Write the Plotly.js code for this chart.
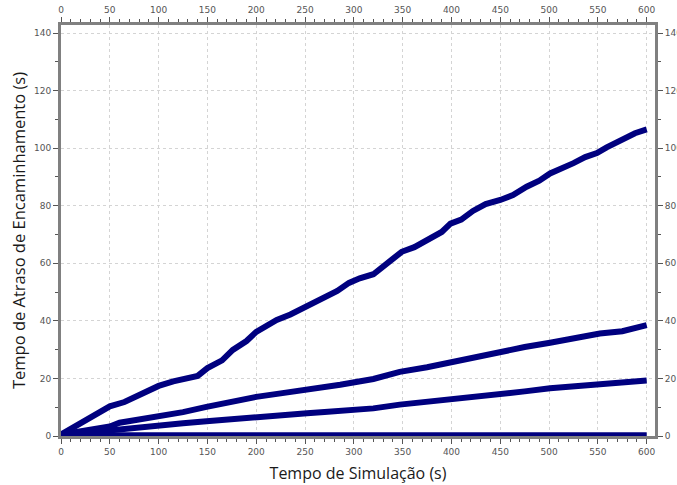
<!DOCTYPE html>
<html><head><meta charset="utf-8">
<script src="https://cdn.plot.ly/plotly-3.0.1.min.js"></script>
<style>html,body{margin:0;padding:0;background:#fff}#chart{width:677px;height:485px}</style>
</head><body><div id="chart"></div>
<script>
// Simulation time (s) and routing delay (s) per series
const timeA = [0, 10, 25, 40, 50, 65, 75, 90, 100, 115, 125, 135, 140, 150, 165, 176, 190, 200, 210, 221, 235, 252, 265, 283, 295, 306, 320, 335, 349, 362, 375, 390, 399, 410, 422, 435, 450, 463, 477, 490, 501, 513, 525, 537, 549, 559, 568, 576, 588, 600];
const delayA = [0.5, 2.5, 5.5, 8.5, 10.3, 11.8, 13.5, 15.8, 17.4, 19.0, 19.8, 20.3, 20.9, 23.6, 26.3, 29.9, 33.0, 36.2, 38.4, 40.3, 42.2, 45.0, 47.4, 50.4, 53.2, 54.8, 56.2, 60.0, 64.0, 65.6, 68.0, 70.9, 73.8, 75.2, 78.2, 80.6, 82.0, 83.7, 86.6, 88.7, 91.2, 92.9, 94.8, 96.9, 98.3, 100.3, 101.8, 103.4, 105.2, 106.5];
const timeB = [0, 20, 35, 50, 60, 75, 100, 125, 149, 175, 200, 225, 252, 270, 286, 320, 347, 375, 399, 425, 450, 475, 501, 525, 552, 575, 590, 600];
const delayB = [0.5, 1.8, 2.6, 3.3, 4.6, 5.4, 6.8, 8.3, 10.1, 11.9, 13.6, 14.8, 16.0, 16.9, 17.8, 19.8, 22.3, 23.9, 25.7, 27.4, 29.2, 30.9, 32.4, 34.0, 35.6, 36.4, 37.5, 38.5];
const timeC = [0, 25, 50, 75, 100, 125, 149, 175, 200, 225, 252, 270, 286, 320, 347, 375, 399, 425, 450, 475, 501, 525, 552, 575, 600];
const delayC = [0.3, 1.2, 2.1, 3.0, 3.8, 4.4, 5.1, 5.9, 6.7, 7.3, 7.9, 8.3, 8.7, 9.6, 10.9, 11.8, 12.8, 13.6, 14.6, 15.5, 16.6, 17.2, 18.1, 18.6, 19.3];
const timeD = [0, 100, 200, 300, 400, 500, 600];
const delayD = [0.3, 0.3, 0.3, 0.3, 0.3, 0.3, 0.3];

const xTicks = [0, 50, 100, 150, 200, 250, 300, 350, 400, 450, 500, 550, 600];
const yTicks = [0, 20, 40, 60, 80, 100, 120, 140];

const navy = '#00007f';
function series(x, y) {
  return {x: x, y: y, type: 'scatter', mode: 'lines', line: {color: navy, width: 6, shape: 'linear'}, showlegend: false, hoverinfo: 'skip'};
}
const traces = [series(timeD, delayD), series(timeC, delayC), series(timeB, delayB), series(timeA, delayA),
  {x: [], y: [], xaxis: 'x2', yaxis: 'y2', type: 'scatter', mode: 'lines', showlegend: false}];

const tickFont = {family: 'DejaVu Sans, sans-serif', size: 9, color: '#555'};
const xr = [0, 608.5], yr = [0, 142.8];
const common = {
  showline: true, linecolor: '#808080', linewidth: 3,
  ticks: 'outside', ticklen: 5, tickwidth: 1, tickcolor: '#555',
  tickfont: tickFont, zeroline: false
};
const layout = {
  width: 677, height: 485,
  margin: {l: 61, r: 22, t: 25, b: 49},
  paper_bgcolor: '#fff', plot_bgcolor: '#fff',
  xaxis: Object.assign({}, common, {
    range: xr, tickvals: xTicks, ticktext: xTicks.map(String),
    showgrid: true, gridcolor: '#d4d4d4', griddash: 'dot', gridwidth: 1,
    minor: {ticks: 'outside', ticklen: 3, tickcolor: '#555', dtick: 10, showgrid: false},
    title: {text: 'Tempo de Simulação (s)', font: {family: 'Open Sans, sans-serif', size: 16, color: '#1a1a1a'}, standoff: 13}
  }),
  yaxis: Object.assign({}, common, {
    range: yr, tickvals: yTicks, ticktext: yTicks.map(String),
    showgrid: true, gridcolor: '#d4d4d4', griddash: 'dot', gridwidth: 1,
    minor: {ticks: 'outside', ticklen: 3, tickcolor: '#555', dtick: 10, showgrid: false},
    title: {text: 'Tempo de Atraso de Encaminhamento (s)', font: {family: 'Open Sans, sans-serif', size: 16.5, color: '#1a1a1a'}, standoff: 5}
  }),
  xaxis2: Object.assign({}, common, {
    range: xr, overlaying: 'x', side: 'top', anchor: 'y2',
    tickvals: xTicks, ticktext: xTicks.map(String), showgrid: false,
    minor: {ticks: 'outside', ticklen: 3, tickcolor: '#555', dtick: 10}
  }),
  yaxis2: Object.assign({}, common, {
    range: yr, overlaying: 'y', side: 'right', anchor: 'x2',
    tickvals: yTicks, ticktext: yTicks.map(String), showgrid: false,
    minor: {ticks: 'outside', ticklen: 3, tickcolor: '#555', dtick: 10}
  })
};
Plotly.newPlot('chart', traces, layout, {staticPlot: true, displayModeBar: false});
</script></body></html>
